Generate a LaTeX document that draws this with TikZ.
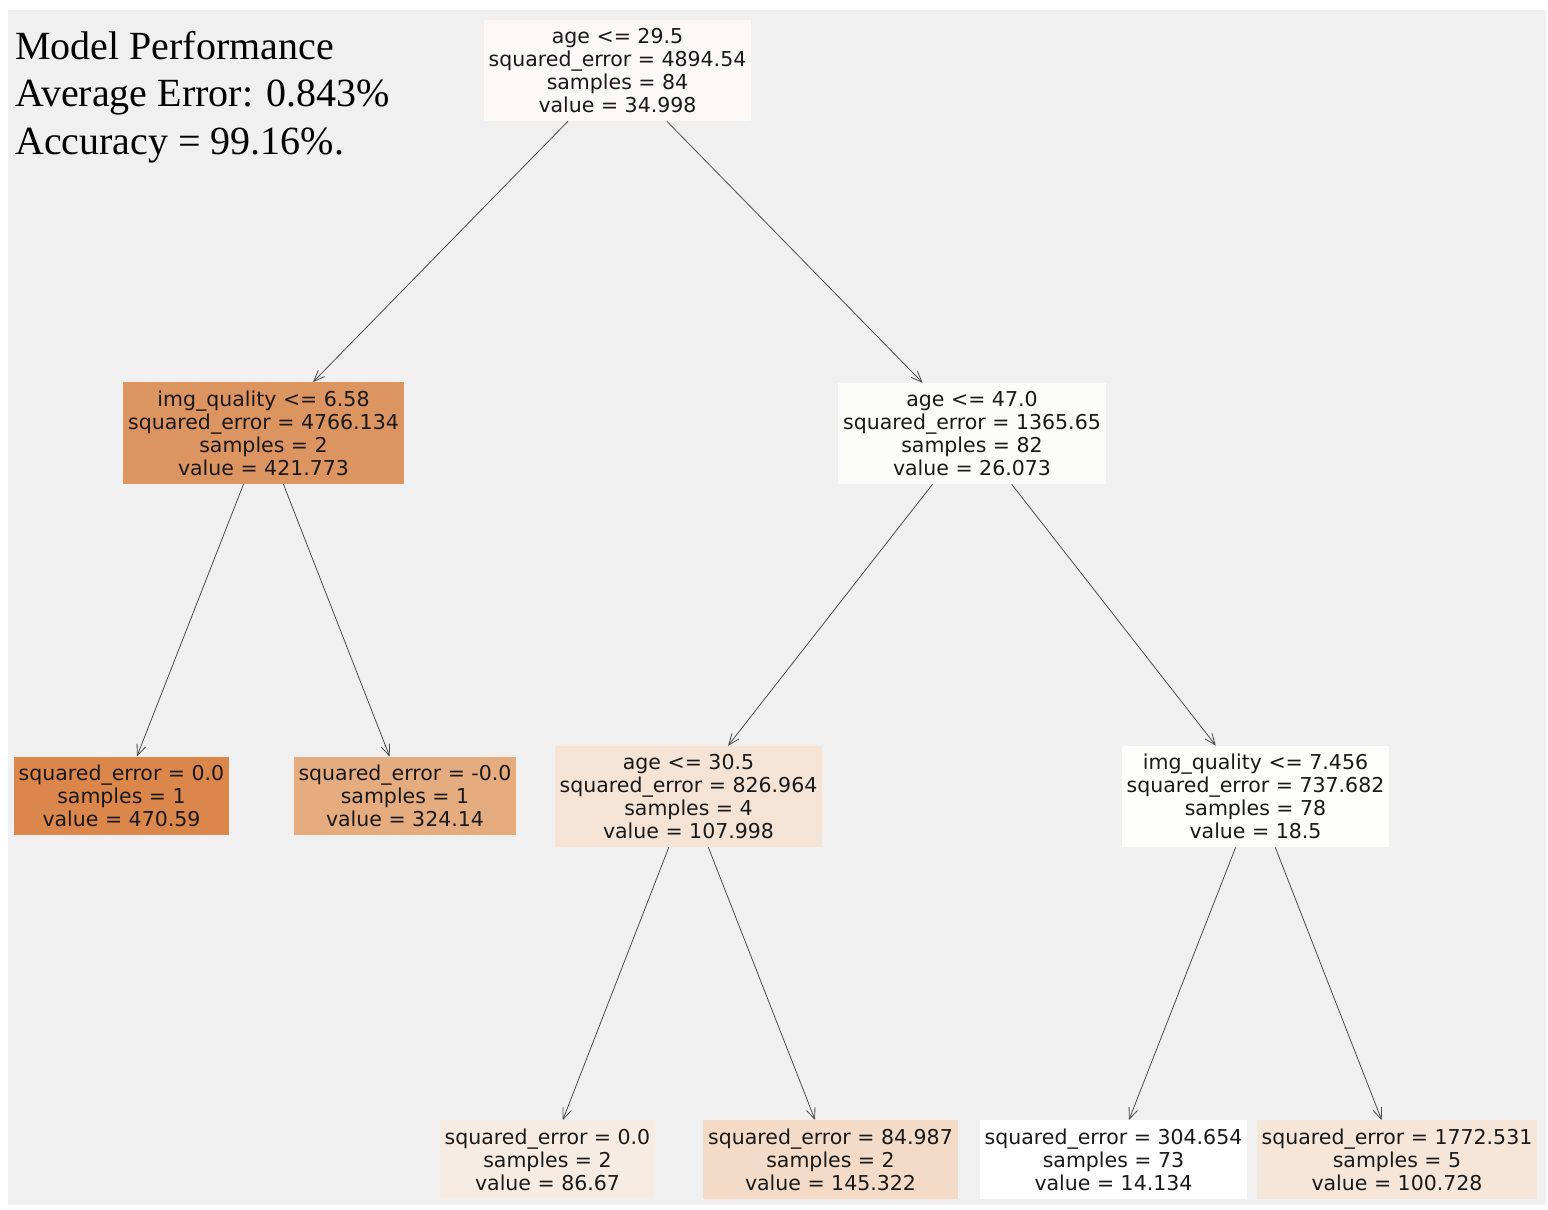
\documentclass[tikz,border=0pt]{standalone}
\usepackage{fontspec}
\usepackage{tikz}
\usetikzlibrary{arrows.meta}
\newfontfamily\treefont{DejaVu Sans}
\newfontfamily\titlefont{Liberation Serif}

\definecolor{bggray}{RGB}{240,240,240}
\definecolor{cRoot}{RGB}{251,248,245}
\definecolor{cL}{RGB}{220,148,96}
\definecolor{cR}{RGB}{252,252,250}
\definecolor{cLL}{RGB}{219,134,74}
\definecolor{cLR}{RGB}{229,172,127}
\definecolor{cRL}{RGB}{245,228,214}
\definecolor{cRR}{RGB}{254,254,253}
\definecolor{cRLL}{RGB}{247,236,227}
\definecolor{cRLR}{RGB}{243,219,200}
\definecolor{cRRL}{RGB}{255,255,255}
\definecolor{cRRR}{RGB}{246,230,218}

\tikzset{
  tnode/.style={rectangle, align=center, inner xsep=5pt, inner ysep=8.3pt,
    font=\treefont\fontsize{20.5}{23}\selectfont, text=black!90},
  edge/.style={-{Straight Barb[length=11pt,width=9pt]}, draw=black!70, line width=0.8pt}
}

\begin{document}
\begin{tikzpicture}[x=1pt, y=-1pt]
			\useasboundingbox (0,0) rectangle (1548,1210);
			\fill[bggray] (8,10) rectangle (1546,1205);
			
			\node[anchor=north west, align=left, inner sep=0pt,
			  font=\titlefont\fontsize{40}{47.5}\selectfont] (title) at (15,31)
			  {Model Performance\\Average Error: 0.843\%\\Accuracy = 99.16\%.};
			
			\node (root) [tnode, fill=cRoot] at (617.5,70.5){age <= 29.5\\squared\_error = 4894.54\\samples = 84\\value = 34.998};
			
			\node (l) [tnode, fill=cL] at (263.5,433){img\_quality <= 6.58\\squared\_error = 4766.134\\samples = 2\\value = 421.773};
			\node (r) [tnode, fill=cR] at (972,433.5){age <= 47.0\\squared\_error = 1365.65\\samples = 82\\value = 26.073};
			
			\node (ll) [tnode, fill=cLL] at (121.5,796){squared\_error = 0.0\\samples = 1\\value = 470.59};
			\node (lr) [tnode, fill=cLR] at (405,796){squared\_error = -0.0\\samples = 1\\value = 324.14};
			\node (rl) [tnode, fill=cRL] at (688.5,796.5){age <= 30.5\\squared\_error = 826.964\\samples = 4\\value = 107.998};
			\node (rr) [tnode, fill=cRR] at (1255.5,796.5){img\_quality <= 7.456\\squared\_error = 737.682\\samples = 78\\value = 18.5};
			
			\node (rll) [tnode, fill=cRLL] at (547.5,1159.5){squared\_error = 0.0\\samples = 2\\value = 86.67};
			\node (rlr) [tnode, fill=cRLR] at (830.5,1159.5){squared\_error = 84.987\\samples = 2\\value = 145.322};
			\node (rrl) [tnode, fill=cRRL] at (1113.5,1159.5){squared\_error = 304.654\\samples = 73\\value = 14.134};
			\node (rrr) [tnode, fill=cRRR] at (1397,1159.5){squared\_error = 1772.531\\samples = 5\\value = 100.728};
			
			\draw[edge] (root)--(l);
			\draw[edge] (root)--(r);
			\draw[edge] (l)--(ll);
			\draw[edge] (l)--(lr);
			\draw[edge] (r)--(rl);
			\draw[edge] (r)--(rr);
			\draw[edge] (rl)--(rll);
			\draw[edge] (rl)--(rlr);
			\draw[edge] (rr)--(rrl);
			\draw[edge] (rr)--(rrr);
		\end{tikzpicture}
\end{document}
